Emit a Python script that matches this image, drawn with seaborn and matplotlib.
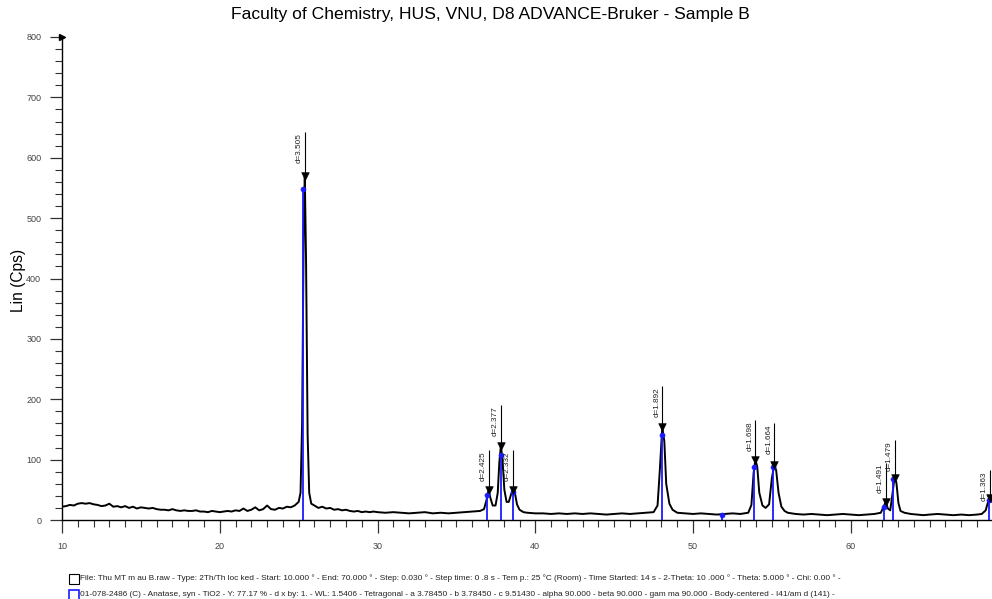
import matplotlib
matplotlib.use("Agg")
import matplotlib.pyplot as plt
import seaborn as sns
import numpy as np
import pandas as pd
from matplotlib.patches import Rectangle

# ---------------- data ----------------
two_theta = [10.0, 10.25, 10.5, 10.75, 11.0, 11.25, 11.5, 11.75, 12.0, 12.25, 12.5, 12.75,
             13.0, 13.25, 13.5, 13.75, 14.0, 14.25, 14.5, 14.75, 15.0, 15.25, 15.5, 15.75,
             16.0, 16.25, 16.5, 16.75, 17.0, 17.25, 17.5, 17.75, 18.0, 18.25, 18.5, 18.75,
             19.0, 19.25, 19.5, 19.75, 20.0, 20.25, 20.5, 20.75, 21.0, 21.25, 21.5, 21.75,
             22.0, 22.25, 22.5, 22.75, 23.0, 23.25, 23.5, 23.75, 24.0, 24.25, 24.5, 24.75,
             25.0, 25.12, 25.22, 25.32, 25.39, 25.47, 25.57, 25.67, 25.8, 26.0, 26.25, 26.5,
             26.75, 27.0, 27.25, 27.5, 27.75, 28.0, 28.25, 28.5, 28.75, 29.0, 29.25, 29.5,
             29.75, 30.0, 30.5, 31.0, 31.5, 32.0, 32.5, 33.0, 33.5, 34.0, 34.5, 35.0,
             35.5, 36.0, 36.5, 36.75, 36.9, 37.04, 37.16, 37.3, 37.48, 37.62, 37.72, 37.82,
             37.92, 38.04, 38.18, 38.32, 38.46, 38.58, 38.7, 38.84, 39.0, 39.25, 39.5, 40.0,
             40.5, 41.0, 41.5, 42.0, 42.5, 43.0, 43.5, 44.0, 44.5, 45.0, 45.5, 46.0,
             46.5, 47.0, 47.5, 47.75, 47.9, 48.05, 48.18, 48.3, 48.5, 48.7, 49.0, 49.5,
             50.0, 50.5, 51.0, 51.5, 52.0, 52.5, 53.0, 53.5, 53.7, 53.84, 53.95, 54.07,
             54.2, 54.4, 54.6, 54.82, 55.0, 55.15, 55.27, 55.42, 55.6, 55.8, 56.0, 56.5,
             57.0, 57.5, 58.0, 58.5, 59.0, 59.5, 60.0, 60.5, 61.0, 61.5, 61.9, 62.08,
             62.21, 62.35, 62.5, 62.65, 62.77, 62.89, 63.02, 63.15, 63.4, 63.8, 64.2, 64.6,
             65.0, 65.5, 66.0, 66.5, 67.0, 67.5, 68.0, 68.3, 68.55, 68.7, 68.81, 68.95]
intensity = [22, 23, 25, 24, 27, 28, 27, 28, 26, 25, 23, 24,
             27, 22, 23, 21, 23, 20, 22, 19, 21, 20, 19, 20,
             18, 17, 17, 16, 18, 16, 15, 16, 15, 15, 16, 14,
             14, 13, 15, 14, 13, 14, 15, 14, 16, 15, 19, 15,
             17, 21, 16, 18, 24, 18, 17, 20, 19, 22, 21, 24,
             30, 45, 160, 480, 570, 430, 140, 45, 27, 24, 20, 22,
             19, 20, 17, 18, 16, 17, 15, 14, 15, 13, 14, 13,
             14, 13, 12, 13, 12, 11, 12, 13, 11, 12, 11, 12,
             13, 14, 15, 18, 32, 50, 36, 24, 24, 45, 95, 123,
             100, 50, 30, 30, 42, 50, 46, 26, 17, 13, 12, 11,
             11, 10, 11, 10, 11, 10, 11, 10, 9, 10, 11, 10,
             11, 12, 13, 24, 85, 154, 130, 60, 27, 17, 12, 11,
             10, 11, 10, 9, 10, 11, 10, 12, 25, 78, 100, 88,
             45, 24, 20, 26, 70, 91, 82, 45, 22, 15, 12, 10,
             9, 10, 9, 8, 9, 10, 9, 8, 9, 10, 12, 22,
             30, 19, 16, 45, 70, 62, 28, 15, 12, 10, 9, 8,
             9, 10, 9, 8, 9, 8, 9, 10, 16, 30, 36, 30]

# reference pattern sticks (blue)
ref_pos = [25.28, 36.95, 37.80, 38.57, 48.05, 51.85, 53.89, 55.06, 62.12, 62.69, 68.76]
ref_int = [548, 42, 108, 46, 140, 9, 88, 88, 22, 68, 33]

# peak labels (black)
peak_d = ["d=3.505", "d=2.425", "d=2.377", "d=2.332", "d=1.892", "d=1.698",
          "d=1.664", "d=1.491", "d=1.479", "d=1.363"]
peak_pos = [25.39, 37.04, 37.82, 38.58, 48.05, 53.95, 55.15, 62.21, 62.77, 68.81]
peak_int = [570, 50, 123, 50, 154, 100, 91, 30, 70, 36]
peak_top = [642, 116, 191, 116, 222, 166, 161, 95, 133, 83]

y_ticks = [0, 100, 200, 300, 400, 500, 600, 700, 800]
x_ticks = [10, 20, 30, 40, 50, 60]

title = "Faculty of Chemistry, HUS, VNU, D8 ADVANCE-Bruker - Sample B"
ylabel = "Lin (Cps)"
footer1 = ("File: Thu MT m au B.raw - Type: 2Th/Th loc ked - Start: 10.000 \u00b0 - End: 70.000 \u00b0 - "
           "Step: 0.030 \u00b0 - Step time: 0 .8 s - Tem p.: 25 \u00b0C (Room) - Time Started: 14 s - "
           "2-Theta: 10 .000 \u00b0 - Theta: 5.000 \u00b0 - Chi: 0.00 \u00b0 -")
footer2 = ("01-078-2486 (C) - Anatase, syn - TiO2 - Y: 77.17 % - d x by: 1. - WL: 1.5406 - "
           "Tetragonal - a 3.78450 - b 3.78450 - c 9.51430 - alpha 90.000 - beta 90.000 - "
           "gam ma 90.000 - Body-centered - I41/am d (141) -")

# ---------------- figure ----------------
sns.set_theme(style="white")
plt.rcParams['font.family'] = ['Liberation Sans', 'DejaVu Sans']

W, H = 992, 599
fig = plt.figure(figsize=(W / 100, H / 100), dpi=100)
ax = fig.add_axes([62 / W, 79 / H, 930 / W, 483 / H])

df = pd.DataFrame({"two_theta": two_theta, "intensity": intensity})
sns.lineplot(data=df, x="two_theta", y="intensity", ax=ax, color="black",
             lw=1.4, estimator=None, sort=True, zorder=3)

# blue reference sticks
ax.vlines(ref_pos, 0, ref_int, color="#1a1aff", lw=1.3, zorder=4)
sns.scatterplot(x=ref_pos, y=ref_int, ax=ax, color="#1a1aff", s=14,
                edgecolor="#1a1aff", zorder=5)

# peak markers
ax.vlines(peak_pos, peak_int, peak_top, color="black", lw=0.8, zorder=4)
sns.scatterplot(x=peak_pos, y=peak_int, ax=ax, marker="v", color="black", s=30,
                edgecolor="black", zorder=6)
for p, t, lab in zip(peak_pos, peak_top, peak_d):
    ax.text(p - 0.12, t - 2, lab, rotation=90, ha="right", va="top",
            fontsize=5.9, color="#222222", zorder=6)

ax.set_xlim(10, 68.95)
ax.set_ylim(0, 800)
ax.set_xticks(x_ticks)
ax.set_xticks(np.arange(10, 69, 1), minor=True)
ax.set_yticks(y_ticks)
ax.set_yticks(np.arange(0, 801, 20), minor=True)
ax.set_xticklabels([str(v) for v in x_ticks])
ax.set_yticklabels([str(v) for v in y_ticks])
ax.tick_params(axis="both", which="major", direction="out", length=9, width=0.9,
               colors="#333333", labelsize=6.5, pad=6, bottom=True, left=True)
ax.tick_params(axis="both", which="minor", direction="out", length=5, width=0.8,
               colors="#333333", bottom=True, left=True)
ax.tick_params(axis="x", which="major", pad=7)
ax.tick_params(axis="both", labelcolor="#444444")
ax.set_xlabel("")
ax.set_ylabel("")
for s in ["top", "right"]:
    ax.spines[s].set_visible(False)
for s in ["left", "bottom"]:
    ax.spines[s].set_color("black")
    ax.spines[s].set_linewidth(1.0)

# small arrowhead at top of y axis
ax.plot([10], [800], marker=">", color="black", markersize=4, clip_on=False, zorder=7)

fig.text(0.4945, 1 - 14 / H, title, ha="center", va="center", fontsize=12.6, color="black")
fig.text(18 / W, 1 - 280 / H, ylabel, ha="center", va="center", rotation=90,
         fontsize=11.2, color="black")

# footer with icons
fig.patches.append(Rectangle((69 / W, 1 - 584 / H), 10 / W, 10 / H, transform=fig.transFigure,
                             fill=False, edgecolor="black", lw=0.8))
fig.patches.append(Rectangle((69 / W, 1 - 600 / H), 10 / W, 10 / H, transform=fig.transFigure,
                             fill=False, edgecolor="#1a1aff", lw=1.2))
fig.text(80 / W, 1 - 578 / H, footer1, ha="left", va="center", fontsize=5.95, color="#222222")
fig.text(80 / W, 1 - 594 / H, footer2, ha="left", va="center", fontsize=5.95, color="#222222")

fig.savefig("out.png", dpi=100)
